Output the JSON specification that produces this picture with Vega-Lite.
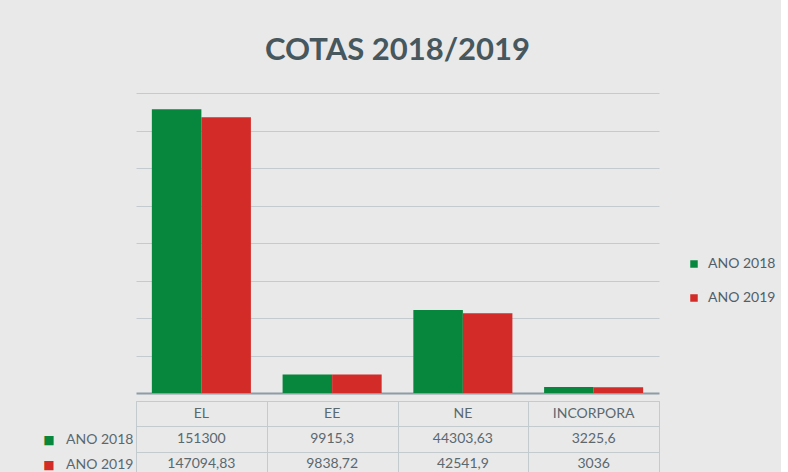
{
  "$schema": "https://vega.github.io/schema/vega-lite/v6.json",
  "background": "#e9e9e9",
  "padding": {"left": 42, "top": 35, "right": 5, "bottom": 0},
  "config": {
    "locale": {"number": {"decimal": ",", "thousands": ".", "grouping": [3], "currency": ["", ""]}},
    "font": "Lato",
    "view": {"stroke": null}
  },
  "datasets": {
    "cotas": [
      {"categoria": "EL", "serie": "ANO 2018", "valor": 151300},
      {"categoria": "EE", "serie": "ANO 2018", "valor": 9915.3},
      {"categoria": "NE", "serie": "ANO 2018", "valor": 44303.63},
      {"categoria": "INCORPORA", "serie": "ANO 2018", "valor": 3225.6},
      {"categoria": "EL", "serie": "ANO 2019", "valor": 147094.83},
      {"categoria": "EE", "serie": "ANO 2019", "valor": 9838.72},
      {"categoria": "NE", "serie": "ANO 2019", "valor": 42541.9},
      {"categoria": "INCORPORA", "serie": "ANO 2019", "valor": 3036}
    ]
  },
  "data": {"name": "cotas"},
  "spacing": 0,
  "vconcat": [
    {
      "width": 523,
      "height": 300,
      "title": {
        "text": "COTAS 2018/2019",
        "frame": "group",
        "anchor": "middle",
        "font": "Lato",
        "fontSize": 31,
        "fontWeight": "bold",
        "color": "#46575d",
        "offset": 26
      },
      "mark": {"type": "bar"},
      "encoding": {
        "x": {
          "field": "categoria", "type": "nominal",
          "sort": ["EL", "EE", "NE", "INCORPORA"],
          "scale": {"paddingInner": 0, "paddingOuter": 0},
          "axis": {"labels": false, "ticks": false, "title": null, "domainColor": "#8d9ca6", "domainWidth": 2}
        },
        "xOffset": {
          "field": "serie", "type": "nominal",
          "scale": {"paddingInner": 0, "paddingOuter": 0.32}
        },
        "y": {
          "field": "valor", "type": "quantitative",
          "scale": {"domain": [0, 160000], "nice": false},
          "axis": {
            "labels": false, "ticks": false, "domain": false, "title": null,
            "values": [20000, 40000, 60000, 80000, 100000, 120000, 140000, 160000],
            "gridColor": "#c3cbd0", "gridWidth": 1
          }
        },
        "color": {
          "field": "serie", "type": "nominal",
          "scale": {"domain": ["ANO 2018", "ANO 2019"], "range": ["#07873d", "#d32b27"]},
          "legend": {
            "orient": "none", "legendX": 551, "legendY": 164,
            "title": null, "symbolType": "square", "symbolSize": 56, "symbolStrokeWidth": 0,
            "labelFontSize": 14, "labelColor": "#50606a", "labelFont": "Lato",
            "rowPadding": 20, "labelOffset": 7
          }
        }
      }
    },
    {
      "width": 523,
      "height": 76,
      "view": {"stroke": "#c4cbcf"},
      "resolve": {"scale": {"y": "independent"}},
      "layer": [
        {
          "transform": [{"filter": "datum.serie == 'ANO 2018'"}],
          "mark": {"type": "text", "fontSize": 14, "color": "#5a686f", "font": "Lato"},
          "encoding": {
            "x": {
              "field": "categoria", "type": "nominal",
              "sort": ["EL", "EE", "NE", "INCORPORA"],
              "scale": {"paddingInner": 0, "paddingOuter": 0},
              "axis": {"labels": false, "ticks": false, "domain": false, "title": null, "grid": true, "tickBand": "extent", "gridColor": "#c4cbcf"}
            },
            "y": {
              "datum": "hdr", "type": "nominal",
              "scale": {"domain": ["hdr", "ANO 2018", "ANO 2019"]},
              "axis": {
                "orient": "left", "offset": 80, "title": null, "ticks": false, "domain": false, "grid": false,
                "labelExpr": "datum.value == 'hdr' ? '' : '■'",
                "labelColor": {"condition": {"test": "datum.value == 'ANO 2018'", "value": "#07873d"}, "value": "#d32b27"},
                "labelFontSize": 12, "labelPadding": 2, "labelFont": "DejaVu Sans"
              }
            },
            "text": {"field": "categoria", "type": "nominal"}
          }
        },
        {
          "mark": {"type": "text", "fontSize": 14, "color": "#5a686f", "font": "Lato"},
          "encoding": {
            "x": {
              "field": "categoria", "type": "nominal",
              "sort": ["EL", "EE", "NE", "INCORPORA"],
              "scale": {"paddingInner": 0, "paddingOuter": 0},
              "axis": {"labels": false, "ticks": false, "domain": false, "title": null, "grid": true, "tickBand": "extent", "gridColor": "#c4cbcf"}
            },
            "y": {
              "field": "serie", "type": "nominal",
              "scale": {"domain": ["hdr", "ANO 2018", "ANO 2019"]},
              "axis": {
                "orient": "left", "title": null, "ticks": false, "domain": false,
                "grid": true, "tickBand": "extent", "gridColor": "#c4cbcf",
                "labelExpr": "datum.value == 'hdr' ? '' : datum.value",
                "labelFontSize": 14, "labelColor": "#5a686f", "labelFont": "Lato", "labelPadding": 3
              }
            },
            "text": {"field": "valor", "type": "quantitative", "format": "~f"}
          }
        }
      ]
    }
  ]
}
